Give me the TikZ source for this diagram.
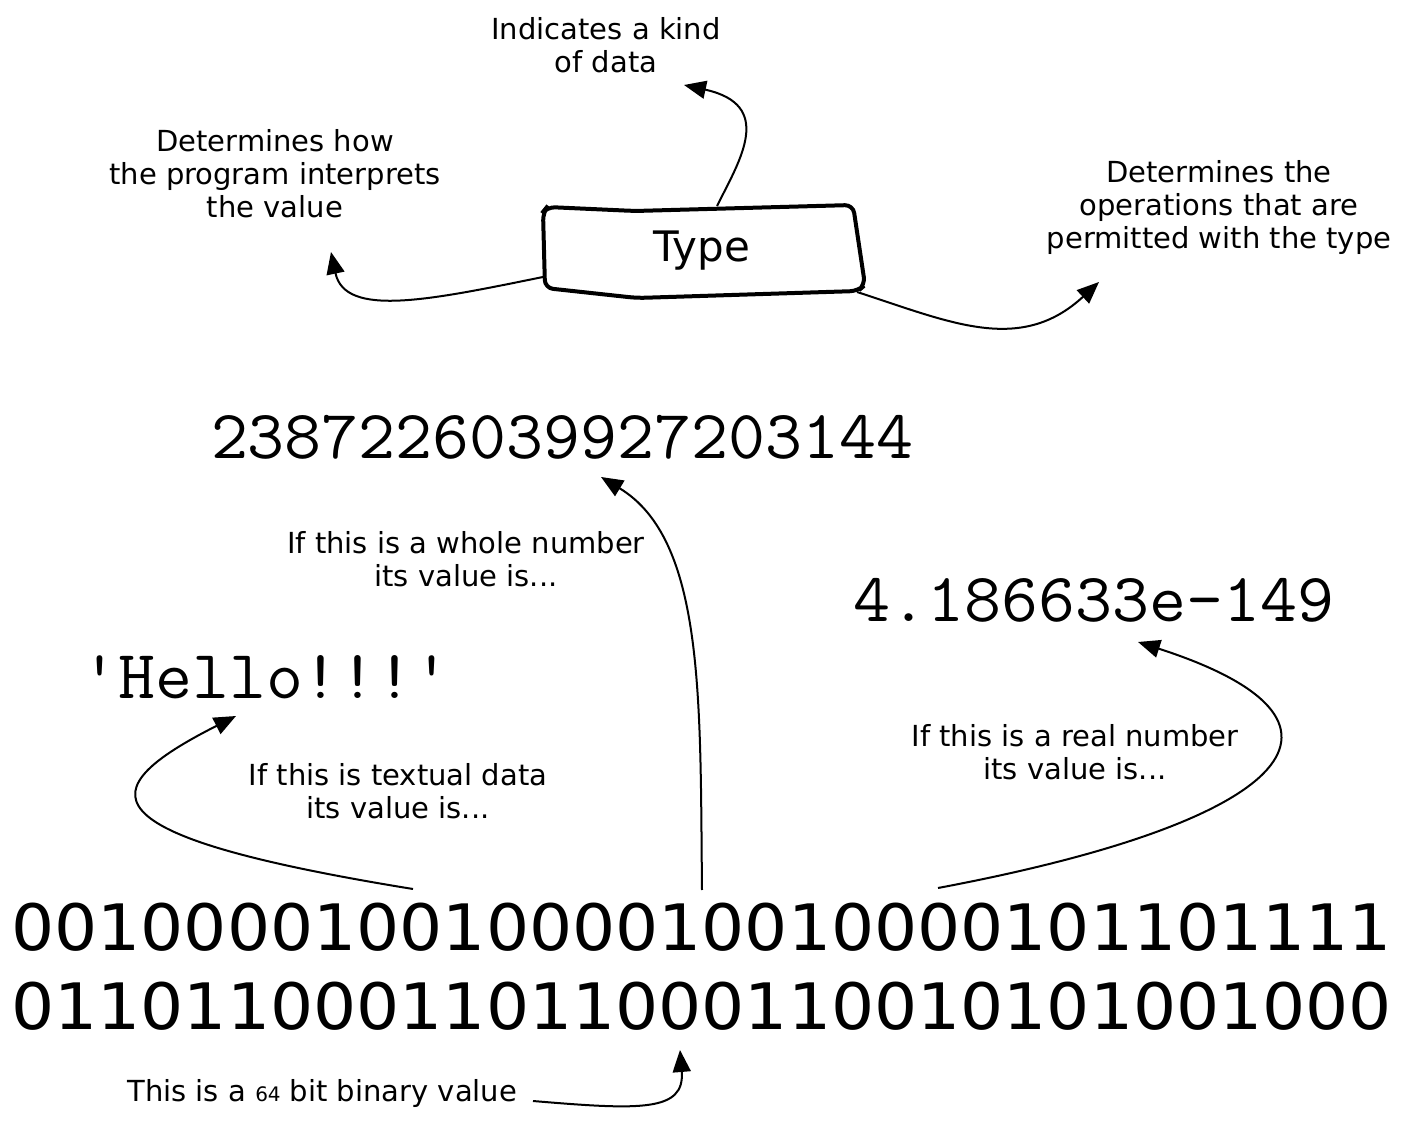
\documentclass[tikz,border=0pt]{standalone}
\usepackage{fontspec}
\setmainfont{DejaVu Sans}
\usetikzlibrary{arrows.meta}
\begin{document}
\begin{tikzpicture}[x=0.5pt,y=-0.5pt,
  note/.style={align=center, inner sep=0pt, font=\fontsize{14.5pt}{16.5pt}\selectfont},
  code/.style={inner sep=0pt, font=\ttfamily\fontsize{34.5pt}{34.5pt}\selectfont, xscale=1.04, transform shape},
  bits/.style={inner sep=0pt, font=\fontsize{32pt}{32pt}\selectfont, xscale=1.06, transform shape},
  link/.style={line width=1pt, -{Triangle[length=11pt,width=9pt]}},
  typebox/.style={line width=2pt, rounded corners=4pt},
]
\useasboundingbox (0,0) rectangle (1409,1122);

% Type box
\draw[typebox] (547,207) -- (635,211) -- (853,205) -- (865,285) -- (858,291) -- (637,298) -- (545,288) -- (543,212) -- cycle;
\node[anchor=base, inner sep=0pt, font=\fontsize{21pt}{21pt}\selectfont] (type) at (702,262) {Type};
\coordinate (boxtop) at (717,206);
\coordinate (boxleft) at (543,277);
\coordinate (boxright) at (857,292);

% notes
\node[note] (kind) at (606,45) {Indicates a kind\\of data};
\node[note] (interp) at (275,174) {Determines how\\the program interprets\\the value};
\node[note] (ops) at (1219,208) {Determines the\\operations that are\\permitted with the type};
\node[note] (whole) at (466,559) {If this is a whole number\\its value is...};
\node[note] (textual) at (398,791) {If this is textual data\\its value is...};
\node[note] (real) at (1075,752) {If this is a real number\\its value is...};
\node[note, anchor=base west] (bin) at (127,1101) {This is a {\fontsize{10pt}{10pt}\selectfont 64} bit binary value};

% values
\node[code] (intval) at (562,437) {2387226039927203144};
\node[code] (realval) at (1094,600) {4.186633e-149};
\node[code] (strval) at (266,677) {'Hello!!!'};

% binary
\node[bits] (row1) at (702,927) {00100001001000010010000101101111};
\node[bits] (row2) at (702,1006) {01101100011011000110010101001000};

% end points of connectors
\coordinate (b1) at (413,889);
\coordinate (b2) at (702,890);
\coordinate (b3) at (938,888);
\coordinate (b4) at (533,1101);
\coordinate (t1) at (236,716);
\coordinate (t2) at (601,477);
\coordinate (t3) at (1138,642);
\coordinate (t4) at (680,1050);
\coordinate (t5) at (684,85);
\coordinate (t6) at (331,252);
\coordinate (t7) at (1099,282);

% connectors
\draw[link] (boxtop) .. controls (740,160) and (775,105) .. (t5);
\draw[link] (boxleft) .. controls (430,300) and (345,318) .. (t6);
\draw[link] (boxright) .. controls (950,322) and (1020,355) .. (t7);
\draw[link] (b2) .. controls (700,700) and (705,540) .. (t2);
\draw[link] (b1) .. controls (80,835) and (90,790) .. (t1);
\draw[link] (b3) .. controls (1300,820) and (1380,720) .. (t3);
\draw[link] (b4) .. controls (640,1110) and (685,1112) .. (t4);
\end{tikzpicture}
\end{document}
